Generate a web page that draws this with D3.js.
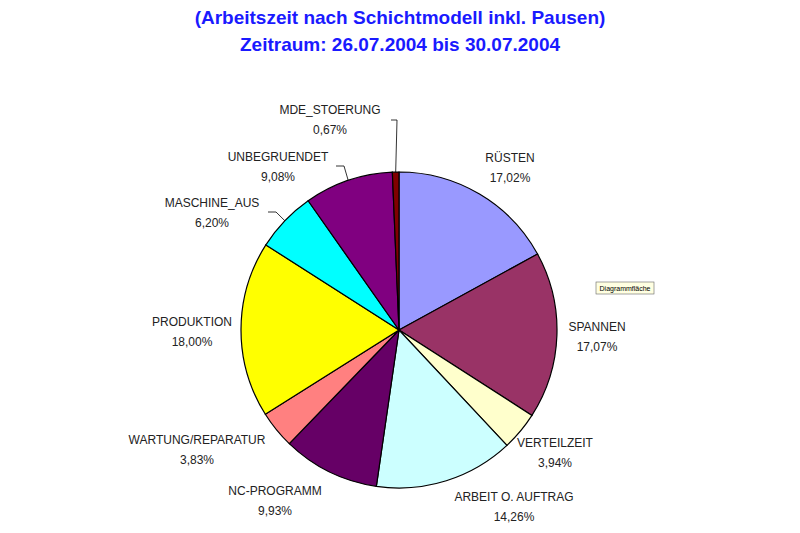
<!DOCTYPE html>
<html><head><meta charset="utf-8">
<script src="https://cdn.jsdelivr.net/npm/d3@7"></script>
<style>body{margin:0;background:#fff}</style>
</head><body><div id="chart"></div>
<script>
const categories = ['RÜSTEN','SPANNEN','VERTEILZEIT','ARBEIT O. AUFTRAG','NC-PROGRAMM','WARTUNG/REPARATUR','PRODUKTION','MASCHINE_AUS','UNBEGRUENDET','MDE_STOERUNG'];
const values = [17.02,17.07,3.94,14.26,9.93,3.83,18.00,6.20,9.08,0.67];
const colors = ['#9999FF','#993366','#FFFFCC','#CCFFFF','#660066','#FF8080','#FFFF00','#00FFFF','#800080','#800000'];
// label anchor positions (layout, not data)
const labelAt = [[510,158],[597,327],[555,443],[514,497],[275,491],[197,440],[192,322],[212,203],[278,157],[330,110]];

const width = 800, height = 533, cx = 399, cy = 330, r = 158;
const svg = d3.select('#chart').append('svg').attr('width', width).attr('height', height);

svg.append('text').attr('x', 400).attr('y', 24).attr('text-anchor','middle')
  .attr('font-family','Arial, Liberation Sans').attr('font-weight','bold').attr('font-size',19).attr('fill','#1a1aff')
  .text('(Arbeitszeit nach Schichtmodell inkl. Pausen)');
svg.append('text').attr('x', 400).attr('y', 51).attr('text-anchor','middle')
  .attr('font-family','Arial, Liberation Sans').attr('font-weight','bold').attr('font-size',19).attr('fill','#1a1aff')
  .text('Zeitraum: 26.07.2004 bis 30.07.2004');

const pie = d3.pie().sort(null).value(d => d)(values);
const arc = d3.arc().innerRadius(0).outerRadius(r);
const g = svg.append('g').attr('transform', `translate(${cx},${cy})`);
g.selectAll('path').data(pie).enter().append('path')
  .attr('d', arc).attr('fill', (d,i) => colors[i]).attr('stroke','#000').attr('stroke-width',1.2);

// leader lines for small top slices
const lead = d3.arc().innerRadius(r).outerRadius(r);
[[9,[397,120],[391,120]],[8,[344,166],[336,166]],[7,[276,212],[268,212]]].forEach(([i,p1,p2]) => {
  const a = (pie[i].startAngle + pie[i].endAngle)/2;
  const p0 = [cx + r*Math.sin(a), cy - r*Math.cos(a)];
  svg.append('polyline').attr('points',[p0,p1,p2].map(p=>p.join(',')).join(' '))
    .attr('fill','none').attr('stroke','#000').attr('stroke-width',0.8);
});

const fmt = v => v.toFixed(2).replace('.', ',') + '%';
const lbl = svg.append('g').attr('font-family','Arial, Liberation Sans').attr('font-size',12).attr('fill','#222').attr('text-anchor','middle');
categories.forEach((c,i) => {
  lbl.append('text').attr('x', labelAt[i][0]).attr('y', labelAt[i][1]+4).text(c);
  lbl.append('text').attr('x', labelAt[i][0]).attr('y', labelAt[i][1]+24).text(fmt(values[i]));
});

const tip = svg.append('g').attr('transform','translate(596,282)');
tip.append('rect').attr('width',58).attr('height',12).attr('fill','#ffffe1').attr('stroke','#666').attr('stroke-width',0.6);
tip.append('text').attr('x',29).attr('y',9).attr('text-anchor','middle').attr('font-family','Arial').attr('font-size',7).text('Diagrammfläche');
</script></body></html>
